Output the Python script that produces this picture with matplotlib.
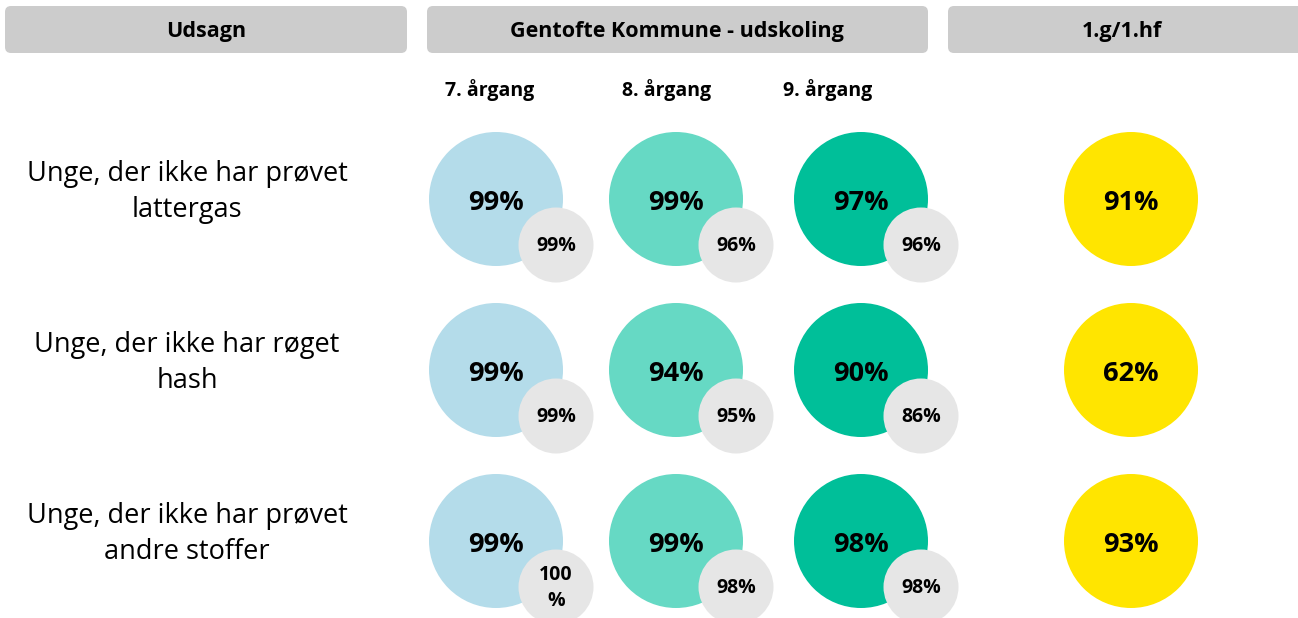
import matplotlib
matplotlib.use("Agg")
import matplotlib.pyplot as plt
import matplotlib.patches as patches

plt.rcParams['font.family'] = ['Open Sans', 'DejaVu Sans']

# data
statements = ["Unge, der ikke har prøvet\nlattergas",
              "Unge, der ikke har røget\nhash",
              "Unge, der ikke har prøvet\nandre stoffer"]
grades = ["7. årgang", "8. årgang", "9. årgang"]
gentofte = [[99, 99, 97],
            [99, 94, 90],
            [99, 99, 98]]
benchmark = [[99, 96, 96],
             [99, 95, 86],
             [100, 98, 98]]
gymnasium = [91, 62, 93]
headers = ["Udsagn", "Gentofte Kommune - udskoling", "1.g/1.hf"]

grade_colors = ["#b4dcea", "#66d9c4", "#00bf99"]
yellow = "#ffe500"
grey = "#e6e6e6"
box_grey = "#cccccc"

W, H = 1298, 618
fig = plt.figure(figsize=(W / 100, H / 100), dpi=100)
ax = fig.add_axes([0, 0, 1, 1])
ax.set_xlim(0, W)
ax.set_ylim(H, 0)
ax.set_aspect('equal')
ax.axis('off')

# header boxes
boxes = [(5, 407), (427, 928), (948, 1305)]
label_x = [206, 677, 1122]
for (x0, x1), lx, label in zip(boxes, label_x, headers):
    box = patches.FancyBboxPatch((x0 + 6, 12), x1 - x0 - 12, 35,
                                 boxstyle="round,pad=6", fc=box_grey, ec='none')
    ax.add_patch(box)
    ax.text(lx, 32, label, ha='center', va='center', fontsize=15.5,
            fontweight='bold')

col_x = [496, 676, 861]
grade_x = [445, 622, 783]
row_y = [199, 370, 541]
R_big, R_small = 67, 37.5
dx, dy = 60, 46

for gx, g in zip(grade_x, grades):
    ax.text(gx, 90, g, ha='left', va='center', fontsize=14, fontweight='bold')

for i, stmt in enumerate(statements):
    y = row_y[i]
    ax.text(187, y - 7, stmt, ha='center', va='center', fontsize=19.5,
            linespacing=1.42)
    for j in range(3):
        x = col_x[j]
        ax.add_patch(patches.Circle((x, y), R_big, fc=grade_colors[j], ec='none'))
        ax.text(x, y + 4, f"{gentofte[i][j]}%", ha='center', va='center',
                fontsize=19.5, fontweight='bold')
        sx, sy = x + dx, y + dy
        ax.add_patch(patches.Circle((sx, sy), R_small, fc=grey, ec='none'))
        val = benchmark[i][j]
        txt = f"{val}\n%" if val >= 100 else f"{val}%"
        ax.text(sx, sy + 1, txt, ha='center', va='center', fontsize=14,
                fontweight='bold', linespacing=1.35)
    ax.add_patch(patches.Circle((1131, y), R_big, fc=yellow, ec='none'))
    ax.text(1131, y + 4, f"{gymnasium[i]}%", ha='center', va='center',
            fontsize=19.5, fontweight='bold')

fig.savefig("out.png", dpi=100)
